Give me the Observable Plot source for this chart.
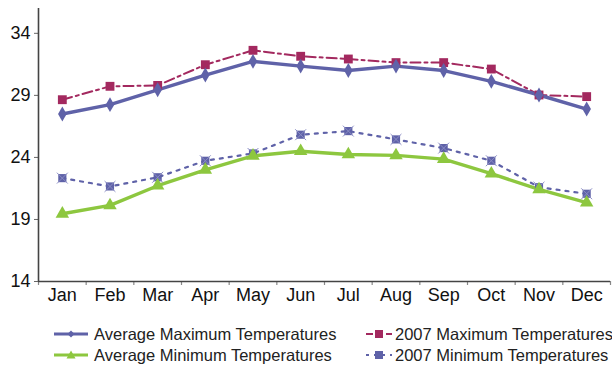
<!DOCTYPE html>
<html><head><meta charset="utf-8">
<script src="https://cdn.jsdelivr.net/npm/d3@7"></script>
<script src="https://cdn.jsdelivr.net/npm/@observablehq/plot@0.6"></script>
<style>
body{margin:0;background:#fff;font-family:Arial,"Liberation Sans",Helvetica,sans-serif;overflow:hidden;}
#wrap{width:612px;position:relative;}
#legend{position:relative;height:57px;font-size:16.5px;color:#222;}
.li{position:absolute;white-space:nowrap;}
.li svg{position:absolute;top:0;}
.li span{position:absolute;top:0;line-height:18px;}
</style></head>
<body><div id="wrap"><div id="chart"></div><div id="legend"></div></div>
<script>
const months = ["Jan","Feb","Mar","Apr","May","Jun","Jul","Aug","Sep","Oct","Nov","Dec"];
const avgMax = [27.5,28.25,29.45,30.64,31.74,31.36,31.0,31.36,31.0,30.13,29.03,27.9];
const max2007 = [28.65,29.73,29.8,31.47,32.63,32.15,31.93,31.64,31.64,31.12,29.03,28.9];
const avgMin = [19.46,20.13,21.72,23.0,24.13,24.5,24.24,24.16,23.86,22.69,21.42,20.35];
const min2007 = [22.33,21.66,22.4,23.73,24.32,25.83,26.12,25.45,24.75,23.73,21.6,21.07];
const yTicks = [14,19,24,29,34];
const seriesNames = ["Average Maximum Temperatures","2007 Maximum Temperatures","Average Minimum Temperatures","2007 Minimum Temperatures"];

const C = {blue:"#5F62A8", mag:"#A3295F", green:"#8DC73F"};
const toRows = arr => arr.map((v,i)=>({i, v}));
const dAvgMax = toRows(avgMax), dMax07 = toRows(max2007), dAvgMin = toRows(avgMin), dMin07 = toRows(min2007);
const idx = months.map((m,i)=>i);
const bounds = d3.range(-0.5, 12, 1);

const chart = Plot.plot({
  width: 612, height: 310,
  marginLeft: 38, marginRight: 2, marginTop: 8, marginBottom: 29,
  style: {fontFamily: 'Arial, "Liberation Sans", Helvetica, sans-serif', fontSize: "18px", color: "#222", background: "#fff"},
  x: {type: "linear", domain: [-0.5, 11.5], axis: null},
  y: {domain: [14, 36], axis: null},
  marks: [
    Plot.axisX(bounds, {tickSize: 4, tickFormat: () => "", stroke: "#888", strokeWidth: 1.2, label: null}),
    Plot.axisX(idx, {tickSize: 0, tickPadding: 7, tickFormat: i => months[i], fontSize: 18, fill: "#111", label: null}),
    Plot.axisY(yTicks, {tickSize: 4, tickPadding: 4, fontSize: 18, fill: "#111", stroke: "#666", label: null}),
    Plot.ruleY([14], {stroke: "#444", strokeWidth: 1.6}),
    Plot.ruleX([-0.5], {y1: 14, y2: 36, stroke: "#444", strokeWidth: 1.6}),
    Plot.line(dMax07, {x: "i", y: "v", stroke: C.mag, strokeWidth: 2, strokeDasharray: "10,4,3,4"}),
    Plot.line(dMin07, {x: "i", y: "v", stroke: C.blue, strokeWidth: 2.2, strokeDasharray: "3,6"}),
    Plot.line(dAvgMin, {x: "i", y: "v", stroke: C.green, strokeWidth: 3.4}),
    Plot.line(dAvgMax, {x: "i", y: "v", stroke: C.blue, strokeWidth: 3.4}),
    Plot.dot(dMax07, {x: "i", y: "v", symbol: "square", r: 5, fill: C.mag}),
    Plot.dot(dMin07, {x: "i", y: "v", symbol: "square", r: 4.6, fill: C.blue}),
    Plot.dot(dMin07, {x: "i", y: "v", symbol: "times", r: 5, stroke: "#8a8cc4", strokeWidth: 1}),
    Plot.dot(dAvgMin, {x: "i", y: "v", symbol: "triangle", r: 5, fill: C.green}),
    Plot.dot(dAvgMax, {x: "i", y: "v", symbol: "diamond", r: 4.5, fill: C.blue})
  ]
});
document.getElementById("chart").appendChild(chart);

// legend (positions relative to legend block which starts at y=310)
const leg = document.getElementById("legend");
const specs = [
  {name: seriesNames[0], color: C.blue, dash: null, sym: "diamond", x: 54, w: 34, tx: 94, cy: 24},
  {name: seriesNames[1], color: C.mag, dash: "7,3", sym: "square", x: 366, w: 26, tx: 395, cy: 24},
  {name: seriesNames[2], color: C.green, dash: null, sym: "triangle", x: 54, w: 34, tx: 94, cy: 45},
  {name: seriesNames[3], color: C.blue, dash: "3,5", sym: "square", x: 366, w: 26, tx: 395, cy: 45}
];
const symPath = {diamond: "M0,-3.5L3.5,0L0,3.5L-3.5,0Z", square: "M-4,-4H4V4H-4Z", triangle: "M0,-4.5L4.5,3.5H-4.5Z"};
specs.forEach(s => {
  const div = document.createElement("div");
  div.className = "li";
  div.style.left = "0px";
  div.style.top = (s.cy - 9) + "px";
  const w = s.w;
  div.innerHTML = `<svg style="left:${s.x}px" width="${w}" height="18"><line x1="0" y1="9" x2="${w}" y2="9" stroke="${s.color}" stroke-width="${s.dash?2:3}" ${s.dash?`stroke-dasharray="${s.dash}"`:""}/><path transform="translate(${w/2},9)" d="${symPath[s.sym]}" fill="${s.color}"/></svg><span style="left:${s.tx}px">${s.name}</span>`;
  leg.appendChild(div);
});
</script></body></html>
